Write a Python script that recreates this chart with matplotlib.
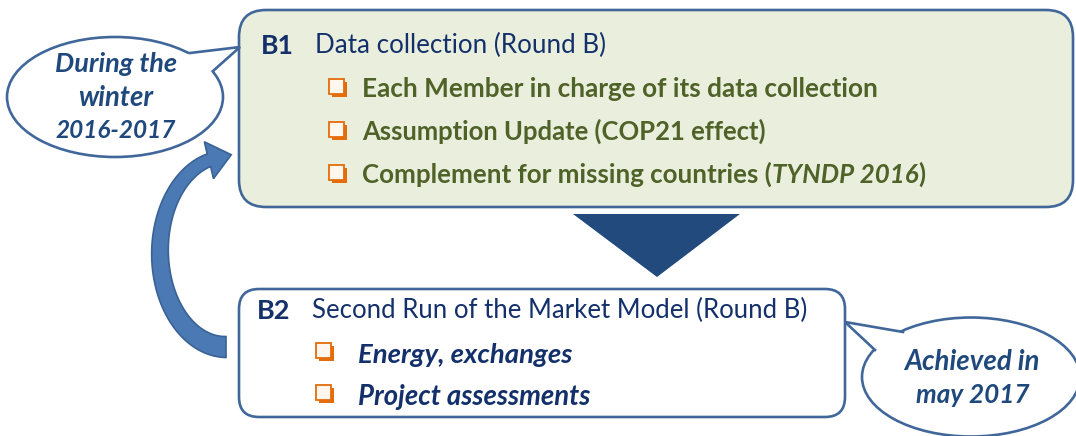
import matplotlib
matplotlib.use('Agg')
import matplotlib.pyplot as plt
import numpy as np
from matplotlib.patches import FancyBboxPatch, Ellipse, Polygon, Rectangle

W, H = 1076, 436
FONT = 'Lato'

NAVY = '#13306b'
OLIVE = '#4f6228'
CALLOUT = '#1f497d'
EDGE = '#41679a'
ORANGE = '#e46c0a'

# texts of the diagram
b1_tag = 'B1'
b1_title = 'Data collection (Round B)'
b1_items = [
    [('Each Member in charge of its data collection', 'normal')],
    [('Assumption Update (COP21 effect)', 'normal')],
    [('Complement for missing countries (', 'normal'),
     ('TYNDP 2016', 'italic'), (')', 'normal')],
]
b2_tag = 'B2'
b2_title = 'Second Run of the Market Model (Round B)'
b2_items = ['Energy, exchanges', 'Project assessments']
left_note = ['During the', 'winter', '2016-2017']
right_note = ['Achieved in', 'may 2017']

fig = plt.figure(figsize=(W / 100, H / 100), dpi=100)
ax = fig.add_axes([0, 0, 1, 1])
ax.set_xlim(0, W)
ax.set_ylim(H, 0)
ax.axis('off')
rend = fig.canvas.get_renderer()


def fit_runs(x, y, runs, width, color, weight='bold', ha='left'):
    '''draw pieces of text on one baseline, scaled to a pixel width'''
    arts = []
    for s, style in runs:
        t = ax.text(0, y, s, fontsize=10, family=FONT, fontweight=weight,
                    fontstyle=style, color=color, va='baseline', ha='left',
                    zorder=10)
        arts.append(t)
    widths = [t.get_window_extent(rend).width for t in arts]
    k = width / sum(widths)
    x0 = x if ha == 'left' else x - width / 2
    for t, w in zip(arts, widths):
        t.set_fontsize(10 * k)
        t.set_x(x0)
        x0 += w * k


def bullet(x, y):
    ax.add_patch(Rectangle((x + 3, y + 3), 15, 15, facecolor=ORANGE,
                           edgecolor='none', zorder=5))
    ax.add_patch(Rectangle((x, y), 15, 15, facecolor='#fff6ee',
                           edgecolor=ORANGE, lw=1.3, zorder=6))


def callout(cx, cy, w, h, tail):
    ax.add_patch(Ellipse((cx, cy), w, h, facecolor='white', edgecolor=EDGE,
                         lw=1.9, zorder=2))
    tip, b1, b2 = tail
    ax.add_patch(Polygon([b1, tip, b2, (cx, cy)], closed=True,
                         facecolor='white', edgecolor='none', zorder=3))
    ax.plot([b1[0], tip[0], b2[0]], [b1[1], tip[1], b2[1]], color=EDGE,
            lw=1.9, solid_joinstyle='miter', zorder=4)


# box B1
ax.add_patch(FancyBboxPatch((239, 10), 834, 197,
                            boxstyle='round,pad=0,rounding_size=27',
                            facecolor='#eaefdd', edgecolor=EDGE, lw=1.9,
                            zorder=1))
fit_runs(261, 54, [(b1_tag, 'normal')], 33, NAVY)
fit_runs(315, 53, [(b1_title, 'normal')], 291, NAVY, weight='normal')
b1_base = [97, 140, 183]
b1_right = [879, 767, 925]
for runs, yb, xr in zip(b1_items, b1_base, b1_right):
    bullet(329, yb - 18)
    fit_runs(362, yb, runs, xr - 362, OLIVE)

# down arrow between the boxes
ax.add_patch(Polygon([(573, 214), (740, 214), (657, 277)], closed=True,
                     facecolor='#224a7c', edgecolor='none', zorder=1))

# box B2
ax.add_patch(FancyBboxPatch((239, 289), 606, 128,
                            boxstyle='round,pad=0,rounding_size=20',
                            facecolor='white', edgecolor=EDGE, lw=1.9,
                            zorder=1))
fit_runs(257, 319, [(b2_tag, 'normal')], 34, NAVY)
fit_runs(312, 318, [(b2_title, 'normal')], 496, NAVY, weight='normal')
b2_base = [363, 405]
b2_right = [572, 590]
for s, yb, xr in zip(b2_items, b2_base, b2_right):
    bullet(316, yb - 20)
    fit_runs(358, yb, [(s, 'italic')], xr - 358, NAVY)

# curved arrow back from B2 to B1
cx, cy, rx, ry = 226, 252, 66, 95
th = np.radians(np.linspace(90, 255, 90))
half = np.linspace(10.5, 6.5, th.size)
outer = np.c_[cx + (rx + half) * np.cos(th), cy + (ry + half) * np.sin(th)]
inner = np.c_[cx + (rx - half) * np.cos(th), cy + (ry - half) * np.sin(th)]
m = np.array([cx + rx * np.cos(th[-1]), cy + ry * np.sin(th[-1])])
tang = np.array([0.97, -0.24])
norm = np.array([-0.24, -0.97])
head = [m + 19 * norm, m + 23 * tang, m - 19 * norm]
ax.add_patch(Polygon(np.vstack([outer, head, inner[::-1]]), closed=True,
                     facecolor='#4a79b3', edgecolor='#3a6294', lw=1.2,
                     zorder=2))

# callouts
callout(115, 97, 216, 120, [(240, 47), (190, 53), (213, 71)])
for s, yb, w in zip(left_note, [72, 106, 138], [122, 75, 120]):
    fit_runs(116, yb, [(s, 'italic')], w, CALLOUT, ha='center')

callout(971, 377, 218, 119, [(845, 322), (903, 332), (875, 350)])
for s, yb, w in zip(right_note, [370, 403], [135, 113]):
    fit_runs(972, yb, [(s, 'italic')], w, CALLOUT, ha='center')

fig.savefig('out.png', dpi=100)
